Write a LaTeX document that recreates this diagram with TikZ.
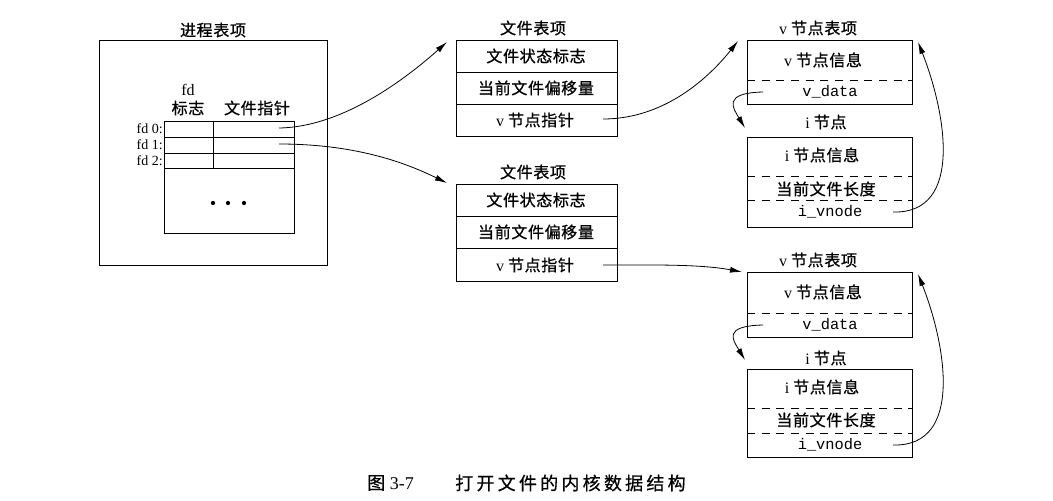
\documentclass[tikz,border=0pt]{standalone}
\usepackage{fontspec}
\setmainfont{Liberation Serif}
\setmonofont{Liberation Mono}
\newfontfamily\cjk{Noto Sans CJK SC}[LetterSpace=4,FakeBold=0.8]
\newfontfamily\cjkcap{Noto Sans CJK SC}[LetterSpace=18,FakeBold=0.6]
\newcommand{\zh}[1]{{\cjk #1}}
\usetikzlibrary{arrows.meta}
\begin{document}
\begin{tikzpicture}[x=0.75pt,y=-0.75pt,
  box/.style={draw, line width=0.6pt},
  dline/.style={line width=0.6pt, dash pattern=on 6pt off 5pt},
  lbl/.style={inner sep=0pt, font=\fontsize{12}{14}\selectfont},
  fdl/.style={inner sep=0pt, anchor=east, font=\fontsize{10.5}{12}\selectfont},
  mono/.style={inner sep=0pt, font=\fontsize{11.5}{13}\selectfont\ttfamily},
  captxt/.style={inner sep=0pt, anchor=west, font=\fontsize{13.5}{15}\selectfont},
  arr/.style={line width=0.6pt, -{Latex[length=9pt,width=4.5pt]}},
]
\useasboundingbox (0,0) rectangle (1053,500);

% ---------- process table entry ----------
\node[lbl] (ptitle) at (213,30) {\zh{进程表项}};
\draw[box] (99,40) rectangle (327,265);
\node[lbl] (fdh) at (188,90) {fd};
\node[lbl] (flagh) at (188,108) {\zh{标志}};
\node[lbl] (ptrh) at (257,108) {\zh{文件指针}};
\draw[box] (164,121) rectangle (294,233);
\draw[box] (164,137) -- (294,137);
\draw[box] (164,153) -- (294,153);
\draw[box] (164,168) -- (294,168);
\draw[box] (213,121) -- (213,168);
\node[fdl] (fd0) at (163,129) {fd 0:};
\node[fdl] (fd1) at (163,145) {fd 1:};
\node[fdl] (fd2) at (163,161) {fd 2:};
\fill (213,203) circle[radius=1.6pt];
\fill (228,203) circle[radius=1.6pt];
\fill (244,203) circle[radius=1.6pt];
\coordinate (s0) at (279,128);
\coordinate (s1) at (279,144);

% ---------- file table entry 1 ----------
\node[lbl] (ft1t) at (533,28) {\zh{文件表项}};
\draw[box] (456,40) rectangle (617,136);
\draw[box] (456,72) -- (617,72);
\draw[box] (456,104) -- (617,104);
\node[lbl] (ft1a) at (536,56) {\zh{文件状态标志}};
\node[lbl] (ft1b) at (536,88) {\zh{当前文件偏移量}};
\node[lbl] (ft1c) at (535,120) {v \zh{节点指针}};
\coordinate (ft1in) at (447,42);
\coordinate (ft1out) at (603,119);

% ---------- file table entry 2 ----------
\node[lbl] (ft2t) at (533,172) {\zh{文件表项}};
\draw[box] (456,184) rectangle (617,281);
\draw[box] (456,216) -- (617,216);
\draw[box] (456,248) -- (617,248);
\node[lbl] (ft2a) at (536,200) {\zh{文件状态标志}};
\node[lbl] (ft2b) at (536,232) {\zh{当前文件偏移量}};
\node[lbl] (ft2c) at (535,265) {v \zh{节点指针}};
\coordinate (ft2in) at (447,183);
\coordinate (ft2out) at (603,265);

% ---------- v-node / i-node group 1 ----------
\node[lbl] (vt1) at (818,28) {v \zh{节点表项}};
\draw[box] (747,40) rectangle (912,104);
\draw[dline] (747,80) -- (912,80);
\node[lbl] (vi1) at (823,60) {v \zh{节点信息}};
\node[mono] (vd1) at (830,92) {v\_data};
\node[lbl] (it1) at (826,122) {i \zh{节点}};
\draw[box] (747,137) rectangle (912,227);
\draw[dline] (747,176) -- (912,176);
\draw[dline] (747,200) -- (912,200);
\node[lbl] (ii1) at (822,155) {i \zh{节点信息}};
\node[lbl] (il1) at (826,189) {\zh{当前文件长度}};
\node[mono] (iv1) at (830,212) {i\_vnode};
\coordinate (v1in) at (738,41);
\coordinate (vd1s) at (763,92);
\coordinate (i1in) at (745,128);
\coordinate (iv1s) at (893,212);
\coordinate (v1back) at (918,42);

% ---------- v-node / i-node group 2 ----------
\node[lbl] (vt2) at (818,260) {v \zh{节点表项}};
\draw[box] (747,272) rectangle (912,337);
\draw[dline] (747,313) -- (912,313);
\node[lbl] (vi2) at (823,292) {v \zh{节点信息}};
\node[mono] (vd2) at (830,325) {v\_data};
\node[lbl] (it2) at (826,358) {i \zh{节点}};
\draw[box] (747,369) rectangle (912,457);
\draw[dline] (747,408) -- (912,408);
\draw[dline] (747,433) -- (912,433);
\node[lbl] (ii2) at (822,387) {i \zh{节点信息}};
\node[lbl] (il2) at (826,420) {\zh{当前文件长度}};
\node[mono] (iv2) at (830,445) {i\_vnode};
\coordinate (v2in) at (742,272);
\coordinate (vd2s) at (763,325);
\coordinate (i2in) at (745,360);
\coordinate (iv2s) at (893,445);
\coordinate (v2back) at (918,274);

% ---------- connectors ----------
\draw[arr] (s0) .. controls (345,127) and (410,75) .. (ft1in);
\draw[arr] (s1) .. controls (360,144) and (410,165) .. (ft2in);
\draw[arr] (ft1out) .. controls (670,119) and (715,70) .. (v1in);
\draw[arr] (ft2out) .. controls (650,265) and (700,264) .. (v2in);
\draw[arr] (vd1s) .. controls (722,93) and (733,108) .. (i1in);
\draw[arr] (vd2s) .. controls (722,326) and (733,340) .. (i2in);
\draw[arr] (iv1s) .. controls (965,214) and (945,110) .. (v1back);
\draw[arr] (iv2s) .. controls (965,447) and (945,342) .. (v2back);

% ---------- caption ----------
\node[captxt] (capa) at (367,483) {{\cjkcap 图} 3-7};
\node[captxt] (capb) at (455,483) {\cjkcap 打开文件的内核数据结构};
\end{tikzpicture}
\end{document}
